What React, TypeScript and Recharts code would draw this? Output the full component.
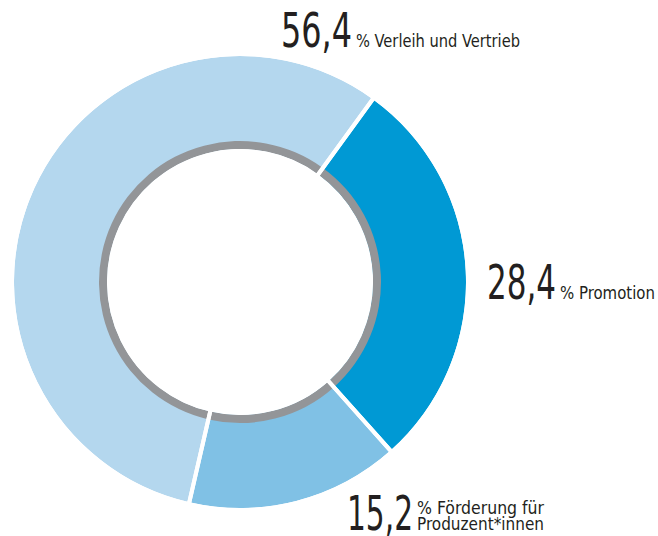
import { Cell, Pie, PieChart } from 'recharts'

const categories = ['Promotion', 'Förderung für Produzent*innen', 'Verleih und Vertrieb']
const shares = [28.4, 15.2, 56.4]
const valueLabels = ['28,4', '15,2', '56,4']
const suffixLines = [['% Promotion'], ['% Förderung für', 'Produzent*innen'], ['% Verleih und Vertrieb']]
const COLORS = ['#0099d4', '#80c1e5', '#b4d7ee']

const data = categories.map((name, i) => ({ name, value: shares[i] }))

const FONT = '"DejaVu Sans Condensed", "Liberation Sans Narrow", "Roboto", sans-serif'
const INK = '#231f20'

// label placement relative to pie centre, per slice (number width, suffix width)
const LABEL_POS = [
  { dx: 247, dy: 17, numW: 69, sufW: [95] },
  { dx: 107, dy: 248, numW: 66, sufW: [127, 127] },
  { dx: 41, dy: -235, numW: 71, sufW: [164] },
]

function renderLabel(props: any) {
  const { cx, cy, index } = props
  const pos = LABEL_POS[index]
  const x = cx + pos.dx
  const y = cy + pos.dy
  const lines = suffixLines[index]
  const sx = x + pos.numW + 4
  return (
    <g key={`lbl-${index}`}>
      <text
        x={x}
        y={y}
        fontFamily={FONT}
        fontSize={48}
        fill={INK}
        textLength={pos.numW}
        lengthAdjust="spacingAndGlyphs"
      >
        {valueLabels[index]}
      </text>
      {lines.map((line, i) => (
        <text
          key={line}
          x={sx}
          y={y - (lines.length - 1 - i) * 16}
          fontFamily={FONT}
          fontSize={17}
          fill={INK}
          textLength={pos.sufW[i]}
          lengthAdjust="spacingAndGlyphs"
        >
          {line}
        </text>
      ))}
    </g>
  )
}

export default function App() {
  return (
    <div style={{ position: 'absolute', left: 0, top: 0 }}>
      <PieChart width={658} height={536} margin={{ top: 0, right: 0, bottom: 0, left: 0 }}>
        <Pie
          data={data}
          dataKey="value"
          cx={240}
          cy={282}
          innerRadius={133}
          outerRadius={226}
          startAngle={54}
          endAngle={-306}
          stroke="none"
          isAnimationActive={false}
          label={renderLabel}
          labelLine={false}
        >
          {data.map((d, i) => (
            <Cell key={d.name} fill={COLORS[i]} />
          ))}
        </Pie>
        <Pie
          data={data}
          dataKey="value"
          cx={240}
          cy={282}
          innerRadius={133}
          outerRadius={141}
          startAngle={54}
          endAngle={-306}
          fill="#939598"
          stroke="none"
          isAnimationActive={false}
        />
        <Pie
          data={data}
          dataKey="value"
          cx={240}
          cy={282}
          innerRadius={131}
          outerRadius={228}
          startAngle={54}
          endAngle={-306}
          fill="none"
          stroke="#ffffff"
          strokeWidth={4}
          isAnimationActive={false}
        />
      </PieChart>
    </div>
  )
}
